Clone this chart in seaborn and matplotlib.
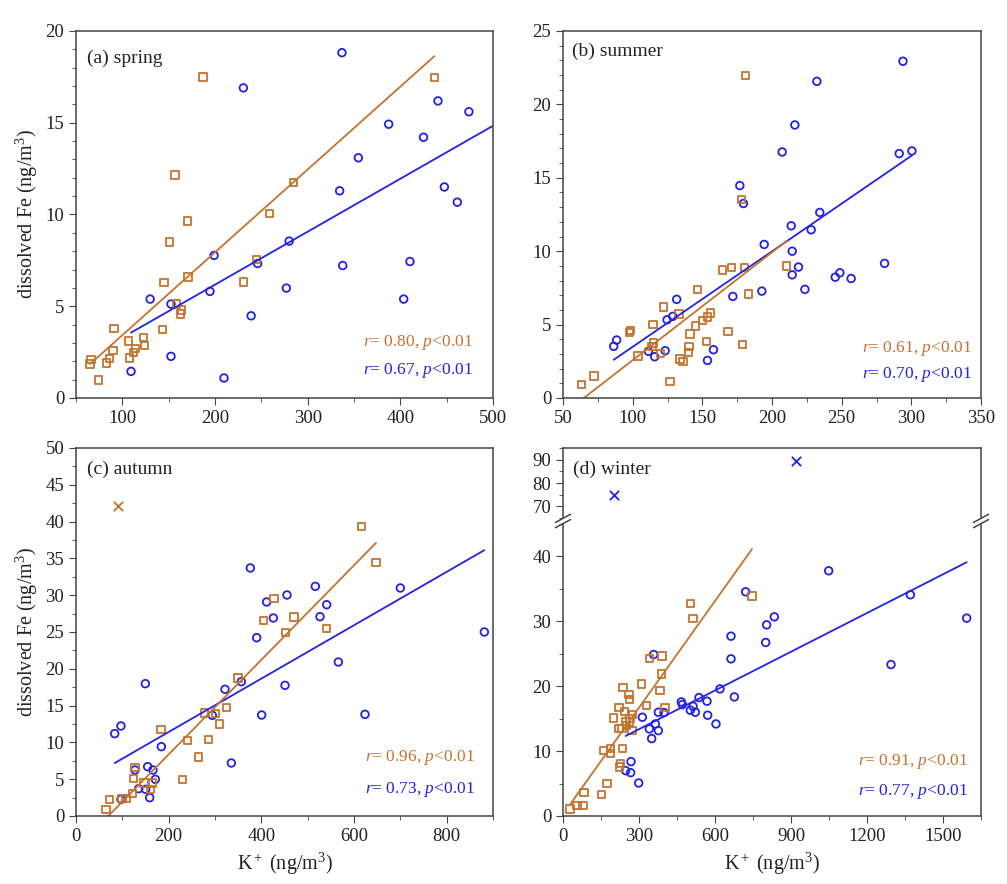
import numpy as np
import pandas as pd
import matplotlib
matplotlib.use("Agg")
import matplotlib.pyplot as plt
from matplotlib.ticker import MultipleLocator
import seaborn as sns

# ---- data (K+ vs dissolved Fe, ng/m3) ----
# (a) spring
spring_sq_k = [65, 66, 74.5, 83, 86, 90, 91, 107, 108, 112, 114, 123, 124, 143.5,
               145, 151, 157, 158.6, 164, 163, 170, 171, 187, 231, 245, 259, 284.5, 436.7]
spring_sq_fe = [1.85, 2.09, 0.98, 1.9, 2.14, 2.58, 3.79, 3.1, 2.18, 2.49, 2.7, 3.3, 2.85, 3.72,
                6.3, 8.5, 12.16, 5.12, 4.8, 4.57, 9.65, 6.59, 17.5, 6.33, 7.55, 10.05, 11.76, 17.48]
spring_ci_k = [109.4, 130, 152.5, 152.5, 194.6, 199, 209.7, 230.6, 239, 246, 277, 280,
               334.5, 337, 337.8, 354.7, 387.4, 403.6, 410.4, 425, 440.6, 447.5, 461.5, 474]
spring_ci_fe = [1.45, 5.39, 2.27, 5.12, 5.81, 7.77, 1.09, 16.9, 4.48, 7.33, 5.99, 8.55,
                11.29, 18.82, 7.22, 13.09, 14.92, 5.39, 7.44, 14.21, 16.19, 11.5, 10.67, 15.6]

# (b) summer
summer_sq_k = [63.4, 72.3, 97.9, 98.6, 103.9, 114.6, 113.9, 115.1, 120.1, 122, 126.8, 133.3,
               134, 136, 140.3, 140.5, 141.2, 145.3, 146.7, 150.3, 153.2, 153.9, 155.8, 164.7,
               168.3, 171.1, 178.1, 178.6, 180.2, 181, 183.1, 210.6]
summer_sq_fe = [0.91, 1.5, 4.45, 4.6, 2.86, 4.99, 3.52, 3.74, 3.02, 6.19, 1.11, 5.72,
                2.65, 2.5, 3.11, 3.52, 4.36, 4.9, 7.37, 5.26, 3.83, 5.51, 5.78, 8.71,
                4.54, 8.87, 13.52, 3.63, 8.89, 21.96, 7.08, 8.98]
summer_ci_k = [86.4, 88.5, 111.3, 115.8, 123.3, 124.7, 128.8, 131.6, 153.7, 158, 171.9, 176.9,
               179.5, 192.7, 194.4, 207.3, 213.8, 214.5, 214.5, 216.4, 219, 223.6, 228.1, 232.2,
               234.3, 245.4, 248.7, 256.8, 280.8, 291.3, 294, 300.4]
summer_ci_fe = [3.52, 3.95, 3.18, 2.81, 3.22, 5.33, 5.56, 6.72, 2.56, 3.29, 6.92, 14.47,
                13.25, 7.28, 10.46, 16.76, 11.73, 10.0, 8.39, 18.6, 8.92, 7.4, 11.46, 21.57,
                12.64, 8.23, 8.53, 8.14, 9.17, 16.65, 22.94, 16.83]

# (c) autumn
autumn_sq_k = [64.7, 72, 99.3, 108, 122.3, 123.7, 127.3, 146.8, 161, 164.7, 183.5, 230, 241,
               264.7, 277, 286.3, 300.7, 310, 325.2, 349.6, 404.3, 427.3, 451.8, 470.5, 541,
               615.8, 647.5]
autumn_sq_fe = [0.86, 2.26, 2.4, 2.4, 3.03, 5.07, 6.57, 4.48, 3.62, 4.48, 11.78, 4.98, 10.28,
                8.02, 14.0, 10.37, 13.95, 12.5, 14.72, 18.75, 26.54, 29.53, 24.95, 27.04, 25.5,
                39.36, 34.42]
autumn_ci_k = [83.5, 97, 97, 127.3, 135.3, 149.6, 150.4, 154.7, 159, 166.2, 171.2, 184.2,
               294.2, 321.6, 335.3, 356.8, 376.3, 390, 400.7, 411.5, 425.9, 451.1, 455.4,
               516.5, 526.6, 541, 566.2, 623.7, 700, 881.3]
autumn_ci_fe = [11.19, 12.23, 2.26, 6.25, 3.71, 17.98, 3.62, 6.7, 2.49, 6.25, 4.98, 9.42,
                13.68, 17.21, 7.2, 18.25, 33.7, 24.23, 13.72, 29.08, 26.9, 17.75, 30.03,
                31.2, 27.08, 28.71, 20.92, 13.81, 30.98, 25.0]
autumn_out_k = [90]
autumn_out_fe = [42.1]

# (d) winter
winter_sq_k = [27.6, 55.3, 79, 83, 152.6, 160.5, 173.7, 186.8, 186.8, 200, 221, 221, 223.7,
               226.3, 232.9, 234.2, 236.8, 243.4, 247.4, 251.3, 260.5, 261.8, 261.8, 264.5,
               272.4, 273.7, 310.5, 328.9, 342.1, 382.9, 388.2, 390.8, 402.6, 503.9, 513.2, 746]
winter_sq_fe = [1.08, 1.65, 1.65, 3.65, 3.34, 10.13, 4.99, 10.39, 9.61, 15.12, 16.71, 13.47,
                7.56, 8.07, 13.47, 10.39, 19.79, 16.14, 14.6, 13.93, 18.77, 17.94, 14.5, 15.01,
                13.16, 15.68, 20.36, 17.02, 24.27, 19.33, 21.9, 24.68, 16.76, 32.75, 30.44, 33.88]
winter_ci_k = [247.4, 267.1, 268.4, 298.7, 313.2, 340.8, 350, 357.9, 364.5, 376.3, 376.3,
               398.7, 467.1, 471, 502.6, 513.2, 522.4, 536.8, 568.4, 571, 603.9, 619.7, 663.2,
               663.2, 676.3, 721, 800, 803.9, 834.2, 1048.7, 1294.7, 1371.1, 1593.4]
winter_ci_fe = [6.99, 6.68, 8.38, 5.09, 15.22, 13.42, 11.93, 24.88, 14.19, 13.16, 15.99,
                15.94, 17.58, 17.17, 16.3, 16.92, 15.99, 18.25, 17.69, 15.53, 14.19, 19.59,
                24.22, 27.71, 18.35, 34.55, 26.74, 29.46, 30.69, 37.79, 23.34, 34.09, 30.49]
winter_out_k = [200, 921]
winter_out_fe = [74.8, 89.4]

titles = ["(a) spring", "(b) summer", "(c) autumn", "(d) winter"]
r_sq = ["0.80", "0.61", "0.96", "0.91"]
r_ci = ["0.67", "0.70", "0.73", "0.77"]

ORANGE = "#C4732E"
BLUE = "#2222E6"
TXT = "#222222"

sns.set_style("ticks")
plt.rcParams.update({
    "font.family": ["Liberation Serif", "DejaVu Serif"],
    "mathtext.fontset": "custom",
    "mathtext.rm": "Liberation Serif",
    "mathtext.it": "Liberation Serif:italic",
    "axes.edgecolor": "#444444",
    "axes.linewidth": 1.1,
    "xtick.color": "#444444",
    "ytick.color": "#444444",
    "xtick.labelcolor": TXT,
    "ytick.labelcolor": TXT,
    "xtick.direction": "out",
    "ytick.direction": "out",
    "xtick.major.size": 5,
    "ytick.major.size": 5,
    "xtick.minor.size": 2.8,
    "ytick.minor.size": 2.8,
    "xtick.labelsize": 13.5,
    "ytick.labelsize": 13.5,
})

fig = plt.figure(figsize=(10.07, 8.84), dpi=100)
W, H = 1007, 884


def px_axes(left, top, right, bottom):
    return fig.add_axes([left / W, 1 - bottom / H, (right - left) / W, (bottom - top) / H])


def draw_series(ax, sq_k, sq_fe, ci_k, ci_fe, ci_to=None):
    df_sq = pd.DataFrame({"k": sq_k, "fe": sq_fe})
    df_ci = pd.DataFrame({"k": ci_k, "fe": ci_fe})
    # optional: let the blue fit run from its first point to a given x (as in panel a)
    if ci_to is not None:
        ax.set_xlim(min(ci_k), ci_to)
    sns.regplot(data=df_ci, x="k", y="fe", ax=ax, ci=None, truncate=ci_to is None, color=BLUE,
                marker="o",
                scatter_kws=dict(s=30, facecolors="none", edgecolors=BLUE, linewidths=1.3, alpha=1),
                line_kws=dict(lw=1.3))
    sns.regplot(data=df_sq, x="k", y="fe", ax=ax, ci=None, truncate=True, color=ORANGE,
                marker="s",
                scatter_kws=dict(s=28, facecolors="none", edgecolors=ORANGE, linewidths=1.3, alpha=1),
                line_kws=dict(lw=1.3))


def annotate(ax, i, x, y1, y2):
    ax.text(x, y1, r"$\mathit{r}$= " + r_sq[i] + r", $\mathit{p}$<0.01", color=ORANGE,
            transform=ax.transAxes, ha="right", va="center", fontsize=12.5)
    ax.text(x, y2, r"$\mathit{r}$= " + r_ci[i] + r", $\mathit{p}$<0.01", color=BLUE,
            transform=ax.transAxes, ha="right", va="center", fontsize=12.5)


def finish(ax):
    for s in ax.spines.values():
        s.set_visible(True)
    ax.set_xlabel("")
    ax.set_ylabel("")
    ax.tick_params(which="both", top=False, right=False)


# (a)
ax_a = px_axes(76, 31, 493, 398)
draw_series(ax_a, spring_sq_k, spring_sq_fe, spring_ci_k, spring_ci_fe, ci_to=500)
finish(ax_a)
ax_a.set_xlim(50, 500)
ax_a.set_ylim(0, 20)
ax_a.xaxis.set_major_locator(MultipleLocator(100))
ax_a.xaxis.set_minor_locator(MultipleLocator(50))
ax_a.yaxis.set_major_locator(MultipleLocator(5))
ax_a.yaxis.set_minor_locator(MultipleLocator(1))
ax_a.set_ylabel("dissolved Fe (ng/m$^3$)", fontsize=14.5, color=TXT)
ax_a.text(0.027, 0.926, titles[0], transform=ax_a.transAxes, fontsize=14, color=TXT, va="center")
annotate(ax_a, 0, 0.952, 0.150, 0.076)

# (b)
ax_b = px_axes(563, 31, 981, 398)
draw_series(ax_b, summer_sq_k, summer_sq_fe, summer_ci_k, summer_ci_fe)
finish(ax_b)
ax_b.set_xlim(50, 350)
ax_b.set_ylim(0, 25)
ax_b.xaxis.set_major_locator(MultipleLocator(50))
ax_b.xaxis.set_minor_locator(MultipleLocator(25))
ax_b.yaxis.set_major_locator(MultipleLocator(5))
ax_b.yaxis.set_minor_locator(MultipleLocator(1))
ax_b.text(0.022, 0.945, titles[1], transform=ax_b.transAxes, fontsize=14, color=TXT, va="center")
annotate(ax_b, 1, 0.978, 0.136, 0.063)

# (c)
ax_c = px_axes(76, 448, 493, 816)
draw_series(ax_c, autumn_sq_k, autumn_sq_fe, autumn_ci_k, autumn_ci_fe)
sns.scatterplot(x=autumn_out_k, y=autumn_out_fe, ax=ax_c, marker="x", s=45, color=ORANGE,
                linewidth=1.3)
finish(ax_c)
ax_c.set_xlim(0, 900)
ax_c.set_ylim(0, 50)
ax_c.xaxis.set_major_locator(MultipleLocator(200))
ax_c.xaxis.set_minor_locator(MultipleLocator(100))
ax_c.yaxis.set_major_locator(MultipleLocator(5))
ax_c.yaxis.set_minor_locator(MultipleLocator(2.5))
ax_c.set_ylabel("dissolved Fe (ng/m$^3$)", fontsize=14.5, color=TXT)
ax_c.set_xlabel("K$^+$ (ng/m$^3$)", fontsize=14.5, color=TXT)
ax_c.text(0.027, 0.943, titles[2], transform=ax_c.transAxes, fontsize=14, color=TXT, va="center")
annotate(ax_c, 2, 0.957, 0.158, 0.073)

# (d) broken y axis
ax_dt = px_axes(563, 448, 981, 518)
ax_d = px_axes(563, 524, 981, 816)
draw_series(ax_d, winter_sq_k, winter_sq_fe, winter_ci_k, winter_ci_fe)
sns.scatterplot(x=winter_out_k, y=winter_out_fe, ax=ax_dt, marker="x", s=45, color=BLUE,
                linewidth=1.3)
finish(ax_d)
finish(ax_dt)
for a in (ax_d, ax_dt):
    a.set_xlim(0, 1650)
ax_d.set_ylim(0, 45)
ax_dt.set_ylim(65, 95)
ax_d.xaxis.set_major_locator(MultipleLocator(300))
ax_d.xaxis.set_minor_locator(MultipleLocator(150))
ax_d.yaxis.set_major_locator(MultipleLocator(10))
ax_d.yaxis.set_minor_locator(MultipleLocator(5))
ax_dt.yaxis.set_major_locator(MultipleLocator(10))
ax_dt.yaxis.set_minor_locator(MultipleLocator(5))
ax_d.spines["top"].set_visible(False)
ax_dt.spines["bottom"].set_visible(False)
ax_dt.tick_params(which="both", bottom=False, labelbottom=False)
ax_d.set_xlabel("K$^+$ (ng/m$^3$)", fontsize=14.5, color=TXT)
ax_dt.text(0.024, 0.69, titles[3], transform=ax_dt.transAxes, fontsize=14, color=TXT, va="center")
annotate(ax_d, 3, 0.968, 0.186, 0.083)

# break marks
gy = 1 + 3.0 / 292
dx, dy = 0.018, 0.014
for xc in (0.0, 1.0):
    for off in (-0.009, 0.009):
        ax_d.plot([xc - dx, xc + dx], [gy + off - dy, gy + off + dy], transform=ax_d.transAxes,
                  color="#444444", lw=1.1, clip_on=False)

fig.savefig("out.png", dpi=100)
